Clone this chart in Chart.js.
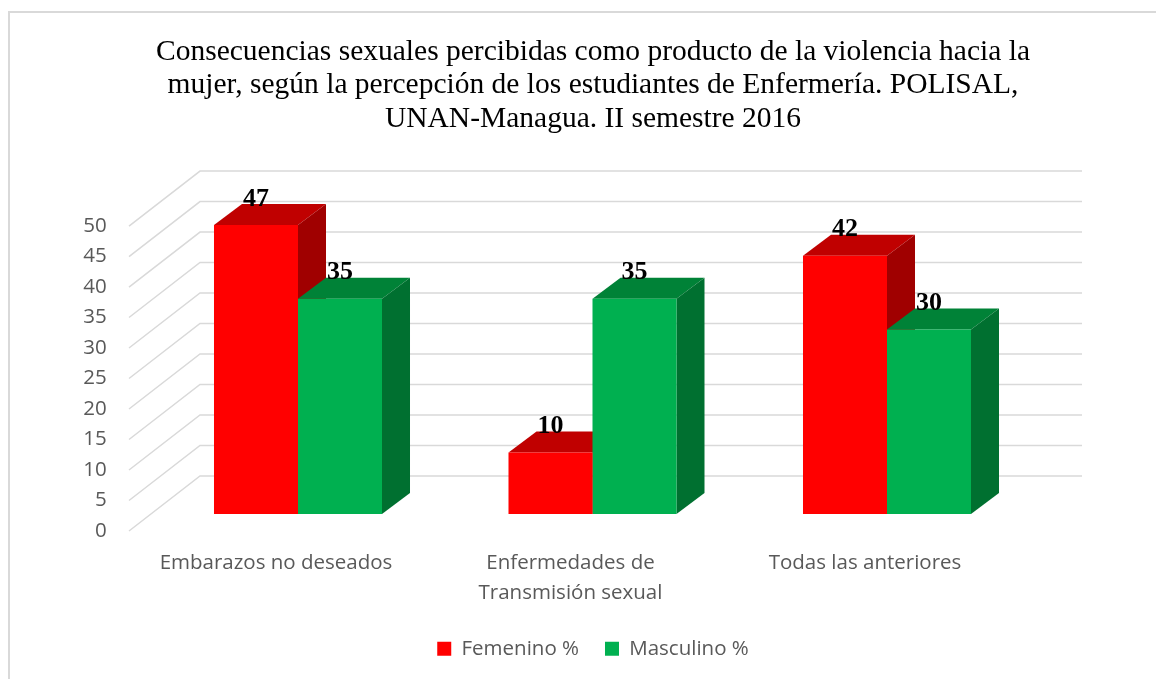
<!DOCTYPE html>
<html><head><meta charset="utf-8">
<style>
html,body{margin:0;padding:0;background:#fff;overflow:hidden}
#frame{position:absolute;left:8px;top:11px;width:1200px;height:700px;border-left:2px solid #d9d9d9;border-top:2px solid #d9d9d9}
canvas{position:absolute;left:0;top:0}
</style>
<script src="https://cdn.jsdelivr.net/npm/chart.js@4/dist/chart.umd.min.js"></script>
</head><body><div id="frame"></div><canvas id="c" width="1156" height="679"></canvas>
<script>
const titleLines = ["Consecuencias sexuales percibidas como producto de la violencia hacia la","mujer, según la percepción de los estudiantes de Enfermería. POLISAL,","UNAN-Managua. II semestre 2016"];
const categories = ["Embarazos no deseados",["Enfermedades de","Transmisión sexual"],"Todas las anteriores"];
const femenino = [47,10,42];
const masculino = [35,35,30];
const seriesNames = ["Femenino %","Masculino %"];

const FRONT = ["#FF0000","#00B050"];
const TOP = ["#C00000","#008237"];
const SIDE = ["#A00000","#007030"];
const DEPTH_X = 28, DEPTH_Y = 21;

function poly(ctx, pts, fill){
  ctx.beginPath();
  pts.forEach((p,i)=> i? ctx.lineTo(p[0],p[1]) : ctx.moveTo(p[0],p[1]));
  ctx.closePath(); ctx.fillStyle = fill; ctx.fill();
}
const threeD = {
  id:'threeD',
  beforeDatasetsDraw(chart){
    const ctx = chart.ctx, y = chart.scales.y;
    ctx.save();
    ctx.strokeStyle = '#d9d9d9'; ctx.lineWidth = 1.5;
    y.ticks.forEach(t=>{
      const p = y.getPixelForValue(t.value);
      ctx.beginPath(); ctx.moveTo(129,p); ctx.lineTo(200,p-55); ctx.lineTo(1082,p-55); ctx.stroke();
    });
    chart.data.datasets.forEach((ds,i)=>{
      chart.getDatasetMeta(i).data.forEach(b=>{
        const r = b.x+b.width/2, l = b.x-b.width/2;
        poly(ctx,[[l,b.y],[r,b.y],[r+DEPTH_X,b.y-DEPTH_Y],[l+DEPTH_X,b.y-DEPTH_Y]],TOP[i]);
        poly(ctx,[[r,b.y],[r+DEPTH_X,b.y-DEPTH_Y],[r+DEPTH_X,b.base-DEPTH_Y],[r,b.base]],SIDE[i]);
      });
    });
    ctx.restore();
  },
  afterDatasetsDraw(chart){
    const ctx = chart.ctx;
    ctx.save();
    ctx.font = 'bold 26px "Liberation Serif"';
    ctx.fillStyle = '#000'; ctx.textAlign='center'; ctx.textBaseline='middle';
    chart.data.datasets.forEach((ds,i)=>{
      chart.getDatasetMeta(i).data.forEach((b,j)=>{
        ctx.fillText(String(ds.data[j]), b.x, b.y-26);
      });
    });
    ctx.restore();
  }
};

new Chart(document.getElementById('c'),{
  type:'bar',
  data:{labels:categories,datasets:[
    {label:seriesNames[0],data:femenino,backgroundColor:FRONT[0],yAxisID:'yBars',categoryPercentage:0.5705,barPercentage:1,borderWidth:0},
    {label:seriesNames[1],data:masculino,backgroundColor:FRONT[1],yAxisID:'yBars',categoryPercentage:0.5705,barPercentage:1,borderWidth:0}
  ]},
  plugins:[threeD],
  options:{
    responsive:false,animation:false,
    layout:{padding:{left:30,right:0,top:0,bottom:10}},
    plugins:{
      tooltip:{enabled:false},
      title:{display:true,text:titleLines,color:'#000',font:{family:'"Liberation Serif"',size:29.5,weight:'normal',lineHeight:1.136},padding:{top:35,bottom:70.5}},
      legend:{position:'bottom',labels:{boxWidth:14,boxHeight:14,padding:26,color:'#595959',font:{family:'"Open Sans"',size:20.5}}}
    },
    scales:{
      x:{grid:{display:false},border:{display:false},
         ticks:{color:'#595959',font:{family:'"Open Sans"',size:20.5,lineHeight:1.46},padding:9,labelOffset:-22,maxRotation:0,autoSkip:false},
         afterFit(s){s.height=81.5;}},
      y:{position:'left',min:0,max:53.28,grid:{display:false},border:{display:false},
         ticks:{stepSize:5,includeBounds:false,color:'#595959',font:{family:'"Open Sans"',size:20.5},padding:36},
         afterFit(s){s.width=120.75;}},
      yBars:{position:'right',min:-2.764,max:50.08,grid:{display:false},border:{display:false},
         ticks:{display:false},afterFit(s){s.width=121.75;}}
    }
  }
});
</script></body></html>
